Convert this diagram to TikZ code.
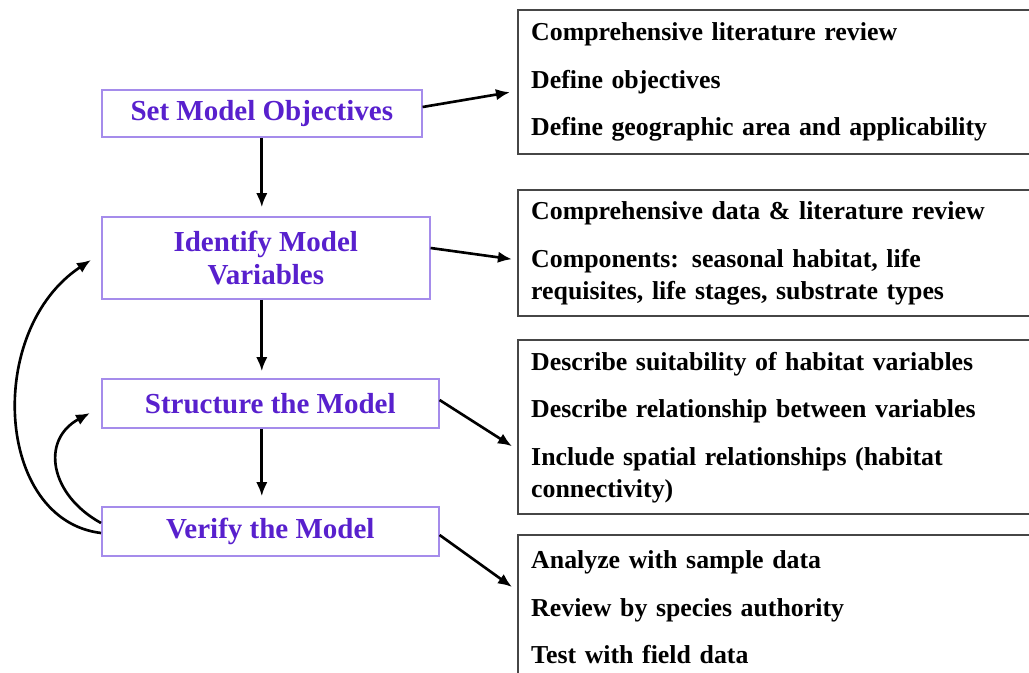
\documentclass[tikz,border=0pt]{standalone}
\usepackage{fontspec}
\setmainfont{Liberation Serif}
\usepackage{tikz}
\usetikzlibrary{arrows.meta, positioning, calc}
\definecolor{chutim}{RGB}{88,32,205}
\definecolor{vientim}{RGB}{165,140,235}
\definecolor{vienxam}{RGB}{70,70,70}
\tikzset{
    stepbox/.style={draw=vientim, line width=0.9pt, text=chutim, anchor=west, align=center,
        font=\fontsize{16.5}{19.3}\selectfont\bfseries},
    notebox/.style={draw=vienxam, line width=1.4pt, anchor=north west, align=left,
        minimum width=10.46cm, text width=9.94cm, inner xsep=0.26cm,
        font=\fontsize{14.7}{18.1}\selectfont\bfseries},
    muiten/.style={line width=1.5pt, -{Latex[length=8pt,width=6.5pt]}}
}

\begin{document}
\begin{tikzpicture}[scale=1]

            \useasboundingbox (0,0) rectangle (20.58,-13.46);
            \clip (0,0) rectangle (20.58,-13.46);

            % Các bước bên trái
            \node[stepbox, minimum width=6.4cm, minimum height=0.94cm] (set) at (2.02,-2.27) {Set Model Objectives};
            \node[stepbox, minimum width=6.56cm, minimum height=1.64cm] (ident) at (2.02,-5.16) {Identify Model\\Variables};
            \node[stepbox, minimum width=6.74cm, minimum height=0.98cm] (struct) at (2.02,-8.07) {Structure the Model};
            \node[stepbox, minimum width=6.74cm, minimum height=0.98cm] (verify) at (2.02,-10.63) {Verify the Model};

            % Các khung ghi chú bên phải
            \node[notebox, minimum height=2.88cm] (objnote) at (10.34,-0.18) {Comprehensive literature review\\[9pt]
                Define objectives\\[9pt]
                Define geographic area and applicability};
            \node[notebox, minimum height=2.52cm] (varnote) at (10.34,-3.78) {Comprehensive data \& literature review\\[9pt]
                Components: seasonal habitat, life\\
                requisites, life stages, substrate types};
            \node[notebox, minimum height=3.48cm] (structnote) at (10.34,-6.78) {Describe suitability of habitat variables\\[9pt]
                Describe relationship between variables\\[9pt]
                Include spatial relationships (habitat\\
                connectivity)};
            \node[notebox, minimum height=2.88cm] (verifynote) at (10.34,-10.68) {Analyze with sample data\\[9pt]
                Review by species authority\\[9pt]
                Test with field data};

            % Mũi tên dọc
            \draw[muiten, shorten >=0.18cm] (set.south) -- (set.south |- ident.north);
            \draw[muiten, shorten >=0.14cm] (ident.south -| set.south) -- (struct.north -| set.south);
            \draw[muiten, shorten >=0.2cm] (struct.south -| set.south) -- (verify.north -| set.south);

            % Mũi tên sang khung ghi chú
            \draw[muiten] ([yshift=0.13cm]set.east) -- ([xshift=-0.14cm,yshift=-0.2cm]objnote.west);
            \draw[muiten] ([yshift=0.2cm]ident.east) -- ([xshift=-0.1cm,yshift=-0.12cm]varnote.west);
            \draw[muiten] ([yshift=0.07cm]struct.east) -- ([xshift=-0.1cm,yshift=-0.38cm]structnote.west);
            \draw[muiten] ([yshift=-0.07cm]verify.east) -- ([xshift=-0.1cm,yshift=-1.06cm]verifynote.north west);

            % Mũi tên vòng quay lại
            \draw[muiten] ([yshift=-0.03cm]verify.west) .. controls (-0.1,-10.4) and (-0.3,-6.6) .. ([xshift=-0.2cm,yshift=-0.04cm]ident.west);
            \draw[muiten] ([yshift=0.17cm]verify.west) .. controls (1.0,-9.9) and (0.8,-8.8) .. ([xshift=-0.22cm,yshift=-0.19cm]struct.west);

            \end{tikzpicture}
\end{document}
